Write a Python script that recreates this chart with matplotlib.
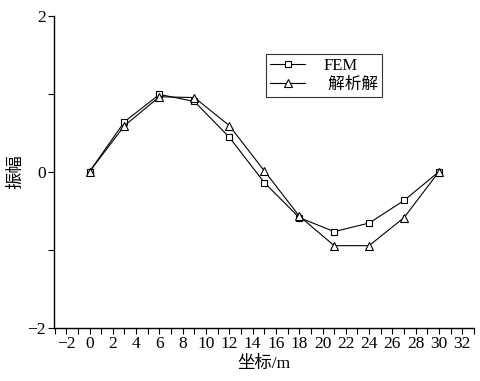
import matplotlib
matplotlib.use("Agg")
import matplotlib.pyplot as plt
from matplotlib.ticker import MultipleLocator

# data
x = [0, 3, 6, 9, 12, 15, 18, 21, 24, 27, 30]
fem = [0, 0.64, 0.99, 0.90, 0.44, -0.14, -0.59, -0.77, -0.66, -0.37, 0]
exact = [0, 0.59, 0.96, 0.95, 0.59, 0.01, -0.57, -0.95, -0.95, -0.59, 0]

xticks = list(range(-2, 33, 2))
yticks = [-2, 0, 2]

fonts = ['Liberation Serif', 'Noto Sans CJK SC']
plt.rcParams['font.family'] = fonts
plt.rcParams['axes.unicode_minus'] = True

fig = plt.figure(figsize=(4.81, 3.81), dpi=100)
ax = fig.add_axes([0.1123, 0.1404, 0.8731, 0.8184])

ax.plot(x, fem, color='black', lw=0.8, marker='s', ms=4.6,
        mfc='white', mec='black', mew=0.8, label='FEM')
ax.plot(x, exact, color='black', lw=0.8, marker='^', ms=5.6,
        mfc='white', mec='black', mew=0.8, label=' 解析解')

ax.set_xlim(-3.05, 33)
ax.set_ylim(-2, 2)
ax.set_xticks(xticks)
ax.xaxis.set_minor_locator(MultipleLocator(1))
ax.set_yticks(yticks)
ax.yaxis.set_minor_locator(MultipleLocator(1))

for s in ['top', 'right']:
    ax.spines[s].set_visible(False)
for s in ['left', 'bottom']:
    ax.spines[s].set_linewidth(1.0)

ax.tick_params(which='both', direction='out', length=4, width=0.8)
ax.tick_params(labelsize=12.5, pad=2)

ax.set_xlabel('坐标/m', fontsize=12.5, labelpad=3)
ax.set_ylabel('振幅', fontsize=12.5, labelpad=2)

leg = ax.legend(loc='upper left', bbox_to_anchor=(0.485, 0.905), fontsize=12,
                frameon=True, fancybox=False, edgecolor='black',
                handlelength=2.1, borderpad=0.25, labelspacing=0.2,
                handletextpad=1.1)
leg.get_frame().set_linewidth(0.8)

fig.savefig('out.png', dpi=100)
